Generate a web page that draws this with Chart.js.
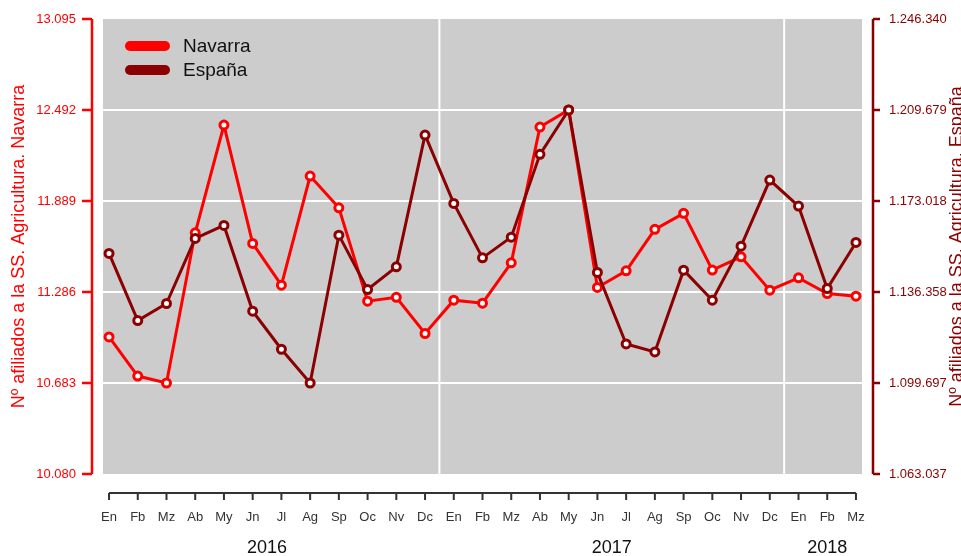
<!DOCTYPE html>
<html>
<head>
<meta charset="utf-8">
<title>Afiliados SS. Agricultura</title>
<script src="https://cdn.jsdelivr.net/npm/chart.js@4.4.1/dist/chart.umd.min.js"></script>
<style>
  html, body { margin: 0; padding: 0; background: #fff; overflow: hidden; }
</style>
</head>
<body>
<canvas id="myChart" width="961" height="556"></canvas>
<script>
// Meses (enero 2016 - marzo 2018)
let months = ["En", "Fb", "Mz", "Ab", "My", "Jn", "Jl", "Ag", "Sp", "Oc", "Nv", "Dc",
              "En", "Fb", "Mz", "Ab", "My", "Jn", "Jl", "Ag", "Sp", "Oc", "Nv", "Dc",
              "En", "Fb", "Mz"];
let years = [2016, 2016, 2016, 2016, 2016, 2016, 2016, 2016, 2016, 2016, 2016, 2016,
             2017, 2017, 2017, 2017, 2017, 2017, 2017, 2017, 2017, 2017, 2017, 2017,
             2018, 2018, 2018];

// Afiliados a la SS. Agricultura
let navarra = [10988, 10729, 10683, 11678, 12392, 11608, 11331, 12054, 11844, 11225, 11251, 11011,
               11232, 11212, 11479, 12379, 12492, 11316, 11426, 11701, 11807, 11431, 11519, 11298,
               11380, 11276, 11258];
let espana = [1151886, 1124865, 1131721, 1157936, 1163179, 1128616, 1113290, 1099697, 1159266, 1137367, 1146482, 1199596,
              1172051, 1150112, 1158460, 1191813, 1209679, 1144223, 1115428, 1112201, 1145151, 1133052, 1154830, 1181448,
              1170962, 1137771, 1156322];

// Marcas de los ejes
let navarraTicks = [10080, 10683, 11286, 11889, 12492, 13095];
let espanaTicks = [1063037, 1099697, 1136358, 1173018, 1209679, 1246340];

let rojo = "#FF0000";
let granate = "#8B0000";

Chart.defaults.font.family = "'Liberation Sans', Arial, sans-serif";

// numero con puntos de miles
function puntos(n) {
    return String(n).replace(/\B(?=(\d{3})+(?!\d))/g, ".");
}

// fondo gris, ejes estilo R, leyenda y titulo derecho
const decorado = {
    id: "decorado",
    beforeDraw(chart) {
        let a = chart.chartArea;
        let ctx = chart.ctx;
        ctx.save();
        ctx.fillStyle = "#CCCCCC";
        ctx.fillRect(a.left, a.top, a.right - a.left, a.bottom - a.top);
        ctx.restore();
    },
    beforeDatasetsDraw(chart) {
        let a = chart.chartArea;
        let ctx = chart.ctx;
        let x = chart.scales.x;
        ctx.save();
        ctx.strokeStyle = "#FFFFFF";
        ctx.lineWidth = 2;
        for (let i = 1; i < years.length; i++) {
            if (years[i] !== years[i - 1]) {
                let px = x.getPixelForValue(i - 0.5);
                ctx.beginPath();
                ctx.moveTo(px, a.top);
                ctx.lineTo(px, a.bottom);
                ctx.stroke();
            }
        }
        ctx.restore();
    },
    afterDraw(chart) {
        let a = chart.chartArea;
        let ctx = chart.ctx;
        let sx = chart.scales.x, sy = chart.scales.y, sy2 = chart.scales.y2;
        ctx.save();

        // eje izquierdo
        ctx.strokeStyle = rojo;
        ctx.lineWidth = 2.5;
        let lx = a.left - 11;
        ctx.beginPath();
        ctx.moveTo(lx, sy.getPixelForValue(navarraTicks[0]));
        ctx.lineTo(lx, sy.getPixelForValue(navarraTicks[navarraTicks.length - 1]));
        navarraTicks.forEach(v => {
            let py = sy.getPixelForValue(v);
            ctx.moveTo(lx, py);
            ctx.lineTo(lx - 10, py);
        });
        ctx.stroke();

        // eje derecho
        ctx.strokeStyle = granate;
        let rx = a.right + 11;
        ctx.beginPath();
        ctx.moveTo(rx, sy2.getPixelForValue(espanaTicks[0]));
        ctx.lineTo(rx, sy2.getPixelForValue(espanaTicks[espanaTicks.length - 1]));
        espanaTicks.forEach(v => {
            let py = sy2.getPixelForValue(v);
            ctx.moveTo(rx, py);
            ctx.lineTo(rx + 7, py);
        });
        ctx.stroke();

        // eje inferior
        ctx.strokeStyle = "#333";
        ctx.lineWidth = 2;
        let by = a.bottom + 19;
        ctx.beginPath();
        ctx.moveTo(sx.getPixelForValue(0), by);
        ctx.lineTo(sx.getPixelForValue(months.length - 1), by);
        months.forEach((m, i) => {
            let px = sx.getPixelForValue(i);
            ctx.moveTo(px, by);
            ctx.lineTo(px, by + 7);
        });
        ctx.stroke();

        // años
        ctx.fillStyle = "#111";
        ctx.font = "18px 'Liberation Sans', Arial, sans-serif";
        ctx.textAlign = "center";
        ctx.textBaseline = "middle";
        let start = 0;
        for (let i = 1; i <= years.length; i++) {
            if (i === years.length || years[i] !== years[i - 1]) {
                let px = sx.getPixelForValue((start + i - 1) / 2);
                ctx.fillText(String(years[start]), px, 548);
                start = i;
            }
        }

        // titulo eje derecho
        ctx.save();
        ctx.translate(957, (a.top + a.bottom) / 2);
        ctx.rotate(-Math.PI / 2);
        ctx.fillStyle = granate;
        ctx.fillText("Nº afiliados a la SS. Agricultura. España", 0, 0);
        ctx.restore();

        // leyenda
        let ds = chart.data.datasets;
        ctx.lineCap = "round";
        ctx.lineWidth = 10;
        ctx.font = "19px 'Liberation Sans', Arial, sans-serif";
        ctx.textAlign = "left";
        [0, 1].forEach((k, j) => {
            let y = 46 + j * 24;
            ctx.strokeStyle = ds[k].borderColor;
            ctx.beginPath();
            ctx.moveTo(130, y);
            ctx.lineTo(165, y);
            ctx.stroke();
            ctx.fillStyle = "#111";
            ctx.fillText(ds[k].label, 183, y + 1);
        });
        ctx.restore();
    }
};

new Chart("myChart", {
    type: "line",
    data: {
        datasets: [{
            label: "Navarra",
            data: navarra.map((v, i) => ({ x: i, y: v })),
            yAxisID: "y",
            borderColor: rojo,
            borderWidth: 3,
            pointRadius: 4,
            pointBorderWidth: 3,
            pointBackgroundColor: "#FFFFFF",
            pointBorderColor: rojo,
            order: 1
        }, {
            label: "España",
            data: espana.map((v, i) => ({ x: i, y: v })),
            yAxisID: "y2",
            borderColor: granate,
            borderWidth: 3,
            pointRadius: 4,
            pointBorderWidth: 3,
            pointBackgroundColor: "#FFFFFF",
            pointBorderColor: granate,
            order: 0
        }]
    },
    options: {
        responsive: false,
        animation: false,
        layout: { padding: { top: 19, left: 0, right: 0, bottom: 0 } },
        plugins: {
            legend: { display: false },
            tooltip: { enabled: false }
        },
        scales: {
            x: {
                type: "linear",
                min: -0.21,
                max: months.length - 1 + 0.21,
                afterBuildTicks: s => { s.ticks = months.map((m, i) => ({ value: i })); },
                ticks: {
                    autoSkip: false,
                    maxRotation: 0,
                    padding: 36,
                    color: "#333",
                    font: { size: 13 },
                    callback: v => months[v]
                },
                grid: { display: false, drawTicks: false },
                border: { display: false },
                afterFit: s => { s.height = 82; s.paddingLeft = 0; s.paddingRight = 0; }
            },
            y: {
                position: "left",
                min: navarraTicks[0],
                max: navarraTicks[navarraTicks.length - 1],
                afterBuildTicks: s => { s.ticks = navarraTicks.map(v => ({ value: v })); },
                ticks: {
                    color: rojo,
                    font: { size: 13 },
                    padding: 27,
                    callback: v => puntos(v)
                },
                grid: {
                    drawTicks: false,
                    lineWidth: 2,
                    color: c => (c.index === 0 || c.index === navarraTicks.length - 1) ? "rgba(0,0,0,0)" : "#FFFFFF"
                },
                border: { display: false },
                title: {
                    display: true,
                    text: "Nº afiliados a la SS. Agricultura. Navarra",
                    color: rojo,
                    font: { size: 18 },
                    padding: { top: 8, bottom: 0 }
                },
                afterFit: s => { s.width = 103; s.paddingTop = 0; s.paddingBottom = 0; }
            },
            y2: {
                position: "right",
                min: espanaTicks[0],
                max: espanaTicks[espanaTicks.length - 1],
                afterBuildTicks: s => { s.ticks = espanaTicks.map(v => ({ value: v })); },
                ticks: {
                    color: granate,
                    font: { size: 13 },
                    padding: 27,
                    callback: v => puntos(v)
                },
                grid: { display: false, drawTicks: false },
                border: { display: false },
                afterFit: s => { s.width = 99; s.paddingTop = 0; s.paddingBottom = 0; }
            }
        }
    },
    plugins: [decorado]
});
</script>
</body>
</html>
